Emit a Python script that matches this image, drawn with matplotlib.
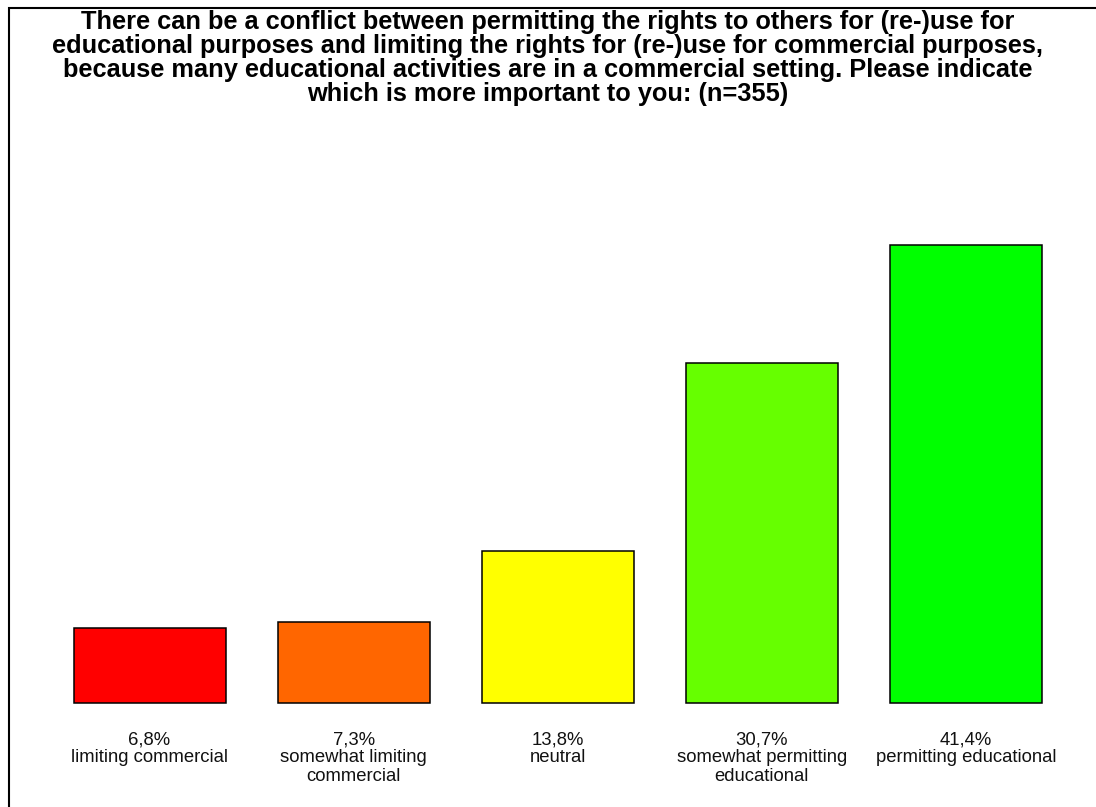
from matplotlib import pyplot as plt
from matplotlib.patches import Rectangle

title = ("There can be a conflict between permitting the rights to others for (re-)use for\n"
         "educational purposes and limiting the rights for (re-)use for commercial purposes,\n"
         "because many educational activities are in a commercial setting. Please indicate\n"
         "which is more important to you: (n=355)")
categories = ['limiting commercial', 'somewhat limiting\ncommercial', 'neutral',
              'somewhat permitting\neducational', 'permitting educational']
values = [6.8, 7.3, 13.8, 30.7, 41.4]
colors = ['#FF0000', '#FF6600', '#FFFF00', '#66FF00', '#00FF00']

plt.rcParams['font.family'] = ['Liberation Sans', 'DejaVu Sans']

fig = plt.figure(figsize=(10.96, 8.07), dpi=100)
fig.patches.append(Rectangle((9 / 1096, -0.1), 1.2, 1 - 8 / 807 + 0.1,
                             transform=fig.transFigure, fill=False,
                             edgecolor='black', linewidth=1.5))

fig.text(0.5, 1 - 10 / 807, title, ha='center', va='top', fontsize=18.3,
         fontweight='bold', linespacing=1.0)

ax = fig.add_axes([0.04334, 0.1248, 0.9310, 0.6209])
x = range(len(values))
ax.bar(x, values, width=0.745, color=colors, edgecolor='black', linewidth=1.1)
ax.set_xlim(-0.5, 4.5)
ax.set_ylim(-0.27, 45)
ax.axis('off')

for i, v in enumerate(values):
    label = ('%.1f%%' % v).replace('.', ',') + '\n' + categories[i]
    ax.annotate(label, xy=(i, 0), xytext=(0, -20), textcoords='offset points',
                ha='center', va='top', fontsize=13.3, linespacing=1.1,
                color='#111111')

fig.savefig('out.png', dpi=100)
